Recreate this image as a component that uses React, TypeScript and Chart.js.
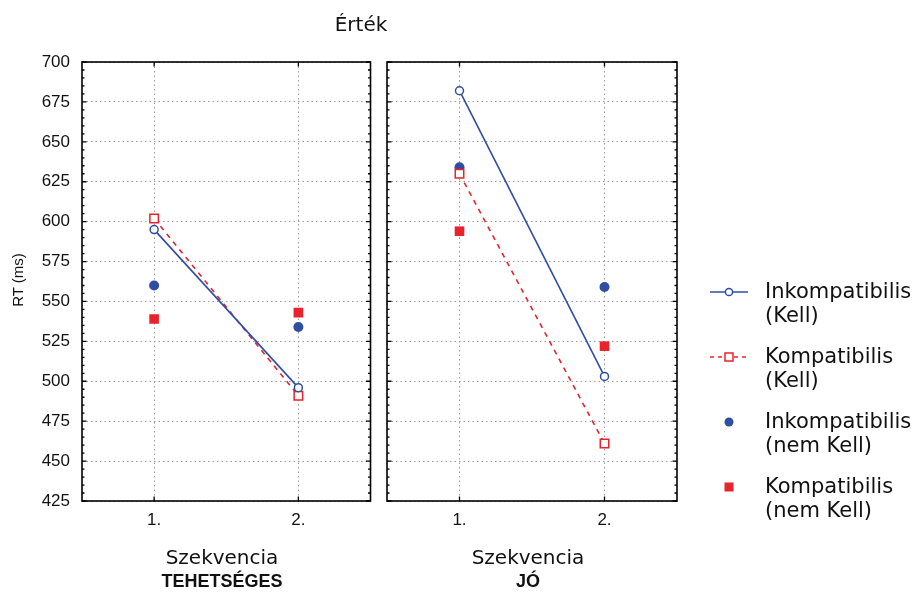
import React, { useEffect, useRef } from "react";
import { Chart, registerables } from "chart.js";

Chart.register(...registerables);

// ---------- data ----------
const sequences = [1, 2];
const xTickLabels = ["1.", "2."];
const chartTitle = "Érték";
const yAxisTitle = "RT (ms)";
const xAxisTitle = "Szekvencia";
const panelNames = ["TEHETSÉGES", "JÓ"];
const seriesLabels = [
  ["Inkompatibilis", "(Kell)"],
  ["Kompatibilis", "(Kell)"],
  ["Inkompatibilis", "(nem Kell)"],
  ["Kompatibilis", "(nem Kell)"],
];

const tehetsegesInkompKell = [595, 496];
const tehetsegesKompKell = [602, 491];
const tehetsegesInkompNemKell = [560, 534];
const tehetsegesKompNemKell = [539, 543];

const joInkompKell = [682, 503];
const joKompKell = [630, 461];
const joInkompNemKell = [634, 559];
const joKompNemKell = [594, 522];

const yMin = 425;
const yMax = 700;
const yStep = 25;
const yMinorStep = 5;

// ---------- styles ----------
const BLUE = "#2f4ea3";
const RED = "#e8232b";
const TICK_FONT = { family: "'Liberation Sans', Arial, sans-serif", size: 17 };

const framePlugin = {
  id: "frame",
  beforeDatasetsDraw(chart: any) {
    const { ctx, chartArea: a, scales } = chart;
    ctx.save();
    ctx.strokeStyle = "#000";
    ctx.lineWidth = 1.6;
    ctx.strokeRect(a.left, a.top, a.right - a.left, a.bottom - a.top);
    ctx.lineWidth = 1.3;
    const ys = scales.y;
    for (let v = yMin; v <= yMax; v += yMinorStep) {
      const py = ys.getPixelForValue(v);
      const len = (v - yMin) % yStep === 0 ? 4.5 : 2.5;
      ctx.beginPath();
      ctx.moveTo(a.left, py);
      ctx.lineTo(a.left + len, py);
      ctx.moveTo(a.right, py);
      ctx.lineTo(a.right - len, py);
      ctx.stroke();
    }
    const xs = scales.x;
    for (const s of sequences) {
      const px = xs.getPixelForValue(s);
      ctx.beginPath();
      ctx.moveTo(px, a.bottom);
      ctx.lineTo(px, a.bottom - 4.5);
      ctx.moveTo(px, a.top);
      ctx.lineTo(px, a.top + 4.5);
      ctx.stroke();
    }
    ctx.restore();
  },
};

const toPts = (arr: number[]) => arr.map((v, i) => ({ x: sequences[i], y: v }));

function Panel(props: {
  left: number;
  width: number;
  showY: boolean;
  yWidth: number;
  padRight: number;
  inkKell: number[];
  kompKell: number[];
  inkNem: number[];
  kompNem: number[];
}) {
  const ref = useRef<HTMLCanvasElement>(null);
  useEffect(() => {
    if (!ref.current) return;
    const chart = new Chart(ref.current, {
      type: "line",
      data: {
        datasets: [
          {
            label: seriesLabels[0].join(" "),
            data: toPts(props.inkKell),
            borderColor: BLUE,
            borderWidth: 1.6,
            pointStyle: "circle",
            pointRadius: 4,
            pointBorderWidth: 1.5,
            pointBackgroundColor: "#fff",
            pointBorderColor: BLUE,
            showLine: true,
          },
          {
            label: seriesLabels[1].join(" "),
            data: toPts(props.kompKell),
            borderColor: RED,
            borderWidth: 1.6,
            borderDash: [5, 5],
            pointStyle: "rect",
            pointRadius: 6,
            pointBorderWidth: 1.5,
            pointBackgroundColor: "#fff",
            pointBorderColor: RED,
            showLine: true,
          },
          {
            label: seriesLabels[2].join(" "),
            data: toPts(props.inkNem),
            showLine: false,
            pointStyle: "circle",
            pointRadius: 5,
            pointBorderWidth: 0,
            pointBackgroundColor: BLUE,
            pointBorderColor: BLUE,
          },
          {
            label: seriesLabels[3].join(" "),
            data: toPts(props.kompNem),
            showLine: false,
            pointStyle: "rect",
            pointRadius: 6.8,
            pointBorderWidth: 0,
            pointBackgroundColor: RED,
            pointBorderColor: RED,
          },
        ],
      },
      options: {
        animation: false,
        responsive: false,
        events: [],
        layout: { padding: { top: 62, right: props.padRight, left: 0, bottom: 0 } },
        plugins: { legend: { display: false }, tooltip: { enabled: false }, title: { display: false } },
        scales: {
          x: {
            type: "linear",
            min: 0.5,
            max: 2.5,
            afterBuildTicks: (s: any) => {
              s.ticks = sequences.map((v) => ({ value: v }));
            },
            afterFit: (s: any) => {
              s.height = 93;
            },
            ticks: {
              callback: (_v: any, i: number) => xTickLabels[i],
              color: "#111",
              font: TICK_FONT,
              padding: 9,
              maxRotation: 0,
              autoSkip: false,
            },
            grid: { color: "#9a9a9a", lineWidth: 1, drawTicks: false },
            border: { display: false, dash: [1.5, 3] },
          },
          y: {
            type: "linear",
            min: yMin,
            max: yMax,
            afterFit: (s: any) => {
              s.width = props.yWidth;
            },
            ticks: {
              stepSize: yStep,
              display: props.showY,
              color: "#111",
              font: TICK_FONT,
              padding: 12,
            },
            grid: { color: "#9a9a9a", lineWidth: 1, drawTicks: false },
            border: { display: false, dash: [1.5, 3] },
          },
        },
      },
      plugins: [framePlugin],
    } as any);
    return () => chart.destroy();
  }, []);
  return (
    <canvas
      ref={ref}
      width={props.width}
      height={594}
      style={{ position: "absolute", left: props.left, top: 0, width: props.width, height: 594 }}
    />
  );
}

function LegendSample({ idx }: { idx: number }) {
  const c = idx === 0 || idx === 2 ? BLUE : RED;
  return (
    <svg width={44} height={20} style={{ position: "absolute", left: 708, top: 0 }}>
      {idx === 0 && <line x1={2} y1={10} x2={40} y2={10} stroke={BLUE} strokeWidth={1.6} />}
      {idx === 1 && (
        <line x1={2} y1={10} x2={40} y2={10} stroke={RED} strokeWidth={1.6} strokeDasharray="4 4" />
      )}
      {idx === 0 && <circle cx={21} cy={10} r={3.6} fill="#fff" stroke={BLUE} strokeWidth={1.5} />}
      {idx === 1 && <rect x={17} y={6} width={8} height={8} fill="#fff" stroke={RED} strokeWidth={1.5} />}
      {idx === 2 && <circle cx={21} cy={10} r={4.5} fill={c} />}
      {idx === 3 && <rect x={16.5} y={5.5} width={9} height={9} fill={c} />}
    </svg>
  );
}

const labelFont = "'DejaVu Sans', Verdana, sans-serif";

export default function App() {
  const legendTops = [279, 344, 409, 474];
  return (
    <div
      style={{
        position: "absolute",
        left: 0,
        top: 0,
        width: 915,
        height: 594,
        background: "#fff",
        overflow: "hidden",
        color: "#111",
      }}
    >
      <Panel
        left={0}
        width={378}
        showY={true}
        yWidth={82}
        padRight={7}
        inkKell={tehetsegesInkompKell}
        kompKell={tehetsegesKompKell}
        inkNem={tehetsegesInkompNemKell}
        kompNem={tehetsegesKompNemKell}
      />
      <Panel
        left={378}
        width={312}
        showY={false}
        yWidth={9}
        padRight={13}
        inkKell={joInkompKell}
        kompKell={joKompKell}
        inkNem={joInkompNemKell}
        kompNem={joKompNemKell}
      />
      <div
        style={{
          position: "absolute",
          left: 261,
          width: 200,
          top: 12,
          textAlign: "center",
          font: `20px/24px ${labelFont}`,
        }}
      >
        {chartTitle}
      </div>
      <div
        style={{
          position: "absolute",
          left: 18 - 50,
          top: 280 - 10,
          width: 100,
          height: 20,
          textAlign: "center",
          font: "15px/20px 'Liberation Sans', Arial, sans-serif",
          transform: "rotate(-90deg)",
        }}
      >
        {yAxisTitle}
      </div>
      {[
        { cx: 222, name: panelNames[0] },
        { cx: 528, name: panelNames[1] },
      ].map((p, i) => (
        <React.Fragment key={i}>
          <div
            style={{
              position: "absolute",
              left: p.cx - 100,
              width: 200,
              top: 545,
              textAlign: "center",
              font: `20px/24px ${labelFont}`,
            }}
          >
            {xAxisTitle}
          </div>
          <div
            style={{
              position: "absolute",
              left: p.cx - 100,
              width: 200,
              top: 570,
              textAlign: "center",
              font: "bold 18px/22px 'Liberation Sans', Arial, sans-serif",
            }}
          >
            {p.name}
          </div>
        </React.Fragment>
      ))}
      {seriesLabels.map((lab, i) => (
        <div key={i} style={{ position: "absolute", left: 0, top: legendTops[i], width: 915, height: 50 }}>
          <div style={{ position: "absolute", left: 0, top: 3 }}>
            <LegendSample idx={i} />
          </div>
          <div
            style={{
              position: "absolute",
              left: 765,
              top: 0,
              font: `21px/24px ${labelFont}`,
              whiteSpace: "nowrap",
            }}
          >
            {lab[0]}
            <br />
            {lab[1]}
          </div>
        </div>
      ))}
    </div>
  );
}
